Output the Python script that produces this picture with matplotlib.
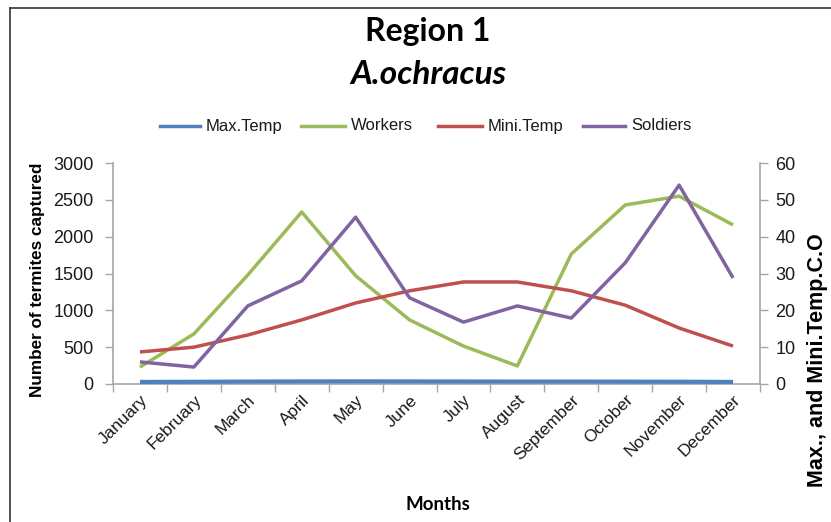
import matplotlib
matplotlib.use("Agg")
import matplotlib.pyplot as plt
from matplotlib.lines import Line2D
import numpy as np

months = ["January", "February", "March", "April", "May", "June", "July",
          "August", "September", "October", "November", "December"]
max_temp = [28, 30, 33, 35, 36, 35, 34, 33, 33, 32, 31, 28]
workers = [230, 680, 1480, 2335, 1470, 870, 515, 245, 1765, 2430, 2550, 2160]
mini_temp = [8.7, 10.0, 13.3, 17.4, 22.0, 25.3, 27.7, 27.7, 25.3, 21.4, 15.2, 10.3]
soldiers = [6.0, 4.6, 21.2, 28.0, 45.3, 23.4, 16.8, 21.2, 17.9, 32.9, 54.0, 28.8]

series_names = ["Max.Temp", "Workers", "Mini.Temp", "Soldiers"]
left_ticks = [0, 500, 1000, 1500, 2000, 2500, 3000]
right_ticks = [0, 10, 20, 30, 40, 50, 60]

C_BLUE = "#4F81BD"
C_GREEN = "#9BBB59"
C_RED = "#C0504D"
C_PURPLE = "#8064A2"
C_AXIS = "#A6A6A6"
LW = 2.5

W, H = 831, 522
fig = plt.figure(figsize=(W / 100, H / 100), dpi=100)


def fx(px):
    return px / W


def fy(py):
    return 1 - py / H


# outer frame
fig.add_artist(Line2D([fx(10), fx(10)], [0, fy(8)], transform=fig.transFigure,
                      color="#333333", lw=1.2))
fig.add_artist(Line2D([fx(10), 1], [fy(8), fy(8)], transform=fig.transFigure,
                      color="#333333", lw=1.2))

x0, x1, y0, y1 = 113, 760, 163, 384
ax = fig.add_axes([fx(x0), fy(y1), (x1 - x0) / W, (y1 - y0) / H])
ax2 = ax.twinx()

x = np.arange(len(months))
ax.plot(x, max_temp, color=C_BLUE, lw=3.0, solid_capstyle="butt", zorder=3)
ax.plot(x, workers, color=C_GREEN, lw=LW, solid_capstyle="butt", zorder=3)
ax2.plot(x, mini_temp, color=C_RED, lw=LW, solid_capstyle="butt")
ax2.plot(x, soldiers, color=C_PURPLE, lw=LW, solid_capstyle="butt")

ax.set_xlim(-0.5, len(months) - 0.5)
ax.set_ylim(0, 3000)
ax2.set_ylim(0, 60)
ax.set_yticks(left_ticks)
ax2.set_yticks(right_ticks)
ax.set_yticklabels([str(v) for v in left_ticks])
ax2.set_yticklabels([str(v) for v in right_ticks])

ax.set_xticks(np.arange(len(months) + 1) - 0.5, minor=False)
ax.set_xticklabels([])
ax.set_xticks(x, minor=True)
ax.set_xticklabels(months, minor=True, rotation=45, ha="right",
                   rotation_mode="anchor", fontsize=12.5,
                   family="Liberation Sans", color="#1a1a1a")
ax.tick_params(axis="x", which="minor", length=0, pad=6)
ax.tick_params(axis="x", which="major", length=6, color=C_AXIS, width=1)

for a in (ax, ax2):
    for s in a.spines.values():
        s.set_visible(False)
ax.spines["left"].set_visible(True)
ax.spines["bottom"].set_visible(True)
ax2.spines["right"].set_visible(True)
for s in (ax.spines["left"], ax.spines["bottom"], ax2.spines["right"]):
    s.set_color(C_AXIS)
    s.set_linewidth(1.2)

ax.tick_params(axis="y", length=6, color=C_AXIS, width=1, pad=8,
               labelsize=13, labelcolor="#1a1a1a")
ax2.tick_params(axis="y", length=6, color=C_AXIS, width=1, pad=5,
                labelsize=13, labelcolor="#1a1a1a")
for lab in ax.get_yticklabels() + ax2.get_yticklabels():
    lab.set_family("Liberation Sans")

# titles and axis labels
fig.text(fx(428), fy(32), "Region 1", ha="center", va="center",
         fontsize=23, fontweight="bold", family="Lato")
fig.text(fx(428), fy(74), "A.ochracus", ha="center", va="center",
         fontsize=24, fontweight="bold", style="italic", family="Lato")
fig.text(fx(38), fy(280), "Number of termites captured", rotation=90,
         ha="center", va="center", fontsize=12.3, fontweight="bold",
         family="Liberation Sans")
fig.text(fx(818), fy(360), "Max., and Mini.Temp.C.O", rotation=90,
         ha="center", va="center", fontsize=15.5, fontweight="bold",
         family="Liberation Sans")
fig.text(fx(438), fy(505), "Months", ha="center", va="center",
         fontsize=13.5, fontweight="bold", family="Lato")

# legend, laid out entry by entry
leg_colors = [C_BLUE, C_GREEN, C_RED, C_PURPLE]
leg_line_x = [(160, 200), (301, 345), (438, 482), (583, 625)]
leg_y = 126
for name, col, (lx0, lx1) in zip(series_names, leg_colors, leg_line_x):
    fig.add_artist(Line2D([fx(lx0), fx(lx1)], [fy(leg_y), fy(leg_y)],
                          transform=fig.transFigure, color=col, lw=LW))
    fig.text(fx(lx1 + 6), fy(leg_y), name, ha="left", va="center",
             fontsize=12, family="Liberation Sans", color="#1a1a1a")

fig.savefig("out.png", dpi=100)
